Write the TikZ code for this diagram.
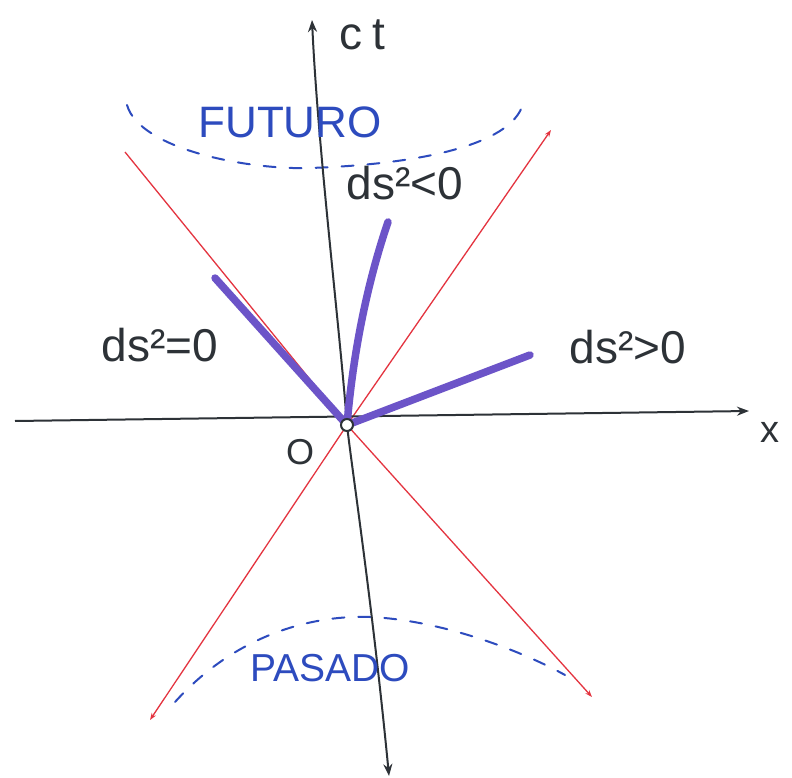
\documentclass[tikz,border=0pt]{standalone}
\usepackage{fontspec}
\setmainfont{Liberation Sans}
\usetikzlibrary{arrows.meta}
\definecolor{axisc}{RGB}{45,50,55}
\definecolor{conec}{RGB}{228,52,64}
\definecolor{vecc}{RGB}{108,84,200}
\definecolor{zonec}{RGB}{45,75,190}
\tikzset{
  axisline/.style={draw=axisc, line width=2pt, -{Stealth[length=12pt,width=9pt]}},
  coneline/.style={draw=conec, line width=1.3pt},
  conearrow/.style={coneline, -{Stealth[length=7pt,width=5pt]}},
  vecline/.style={draw=vecc, line width=7.5pt, line cap=round},
  zonearc/.style={draw=zonec, line width=2pt, dash pattern=on 12pt off 14pt, line cap=round},
  lbl/.style={text=axisc, font=\fontsize{46}{50}\selectfont, inner sep=0pt},
  zonelbl/.style={text=zonec, inner sep=0pt}
}
\begin{document}
\begin{tikzpicture}[x=1pt,y=-1pt]
\useasboundingbox (0,0) rectangle (792,778);
\fill[white] (0,0) rectangle (792,778);
% named points
\coordinate (O) at (347,425);
\coordinate (xl) at (15,421);
\coordinate (xr) at (749,411);
\coordinate (tt) at (312,20);
\coordinate (tb) at (389,776);
\coordinate (cUL) at (125,152);
\coordinate (cUR) at (551,130);
\coordinate (cLL) at (150,720);
\coordinate (cLR) at (592,697);
\coordinate (vL) at (215,278);
\coordinate (vT) at (388,222);
\coordinate (vR) at (530,355);
% dashed zones
\draw[zonearc] (127,105) .. controls (140,150) and (250,170) .. (310,168) .. controls (400,165) and (505,150) .. (522,107);
\draw[zonearc] (175,702) .. controls (240,630) and (320,615) .. (370,617) .. controls (440,620) and (520,650) .. (565,675);
% light cone
\draw[coneline] (cUL) -- (O);
\draw[conearrow] (O) -- (cLR);
\draw[conearrow] (O) -- (cUR);
\draw[conearrow] (O) -- (cLL);
% axes
\draw[axisline] (xl) -- (xr);
\draw[axisline, {Stealth[length=12pt,width=9pt]}-{Stealth[length=12pt,width=9pt]}] (tb) .. controls (372,600) and (352,470) .. (O) .. controls (340,330) and (318,150) .. (tt);
% interval vectors
\draw[vecline] (O) -- (vL);
\draw[vecline] (O) .. controls (355,330) and (375,260) .. (vT);
\draw[vecline] (O) -- (vR);
\draw[axisc, line width=2pt, fill=white] (O) circle (6pt);
% labels
\node[lbl] (lct) at (362,35) {c\hspace{10pt}t};
\node[lbl, font=\fontsize{38}{42}\selectfont] (lx) at (770,432) {x};
\node[lbl, font=\fontsize{36}{40}\selectfont] (lO) at (300,452) {O};
\node[lbl] (l0) at (160,345) {ds²=0};
\node[lbl] (lneg) at (405,183) {ds²<0};
\node[lbl] (lpos) at (628,347) {ds²>0};
\node[zonelbl, font=\fontsize{44}{48}\selectfont] (fut) at (290,122) {FUTURO};
\node[zonelbl, font=\fontsize{39}{42}\selectfont] (pas) at (330,668) {PASADO};
\end{tikzpicture}
\end{document}
